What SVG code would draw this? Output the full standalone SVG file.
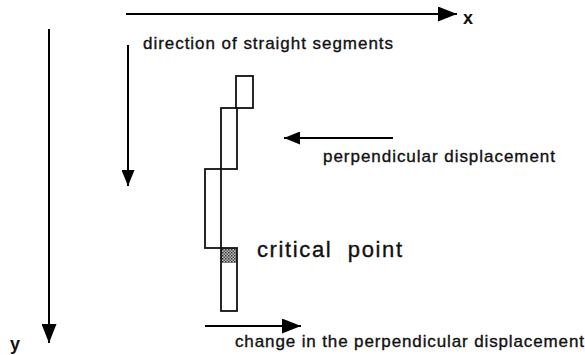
<svg xmlns="http://www.w3.org/2000/svg" width="585" height="355" viewBox="0 0 585 355">
<defs>
<style>
.ln{stroke:#000;stroke-width:2;fill:none}
.box{stroke:#111;stroke-width:1.8;fill:none}
.t{font-family:"Liberation Sans",Arial,sans-serif;fill:#111;stroke:#111;stroke-width:0.35}
.axis{font-family:"Liberation Sans",Arial,sans-serif;font-weight:bold;font-size:18px;fill:#111}
</style>
<marker id="ah" viewBox="0 0 19 15" refX="19" refY="7.5" markerWidth="19" markerHeight="15" markerUnits="userSpaceOnUse" orient="auto">
<path d="M0,0 L19,7.5 L0,15 z" fill="#000"/>
</marker>
<marker id="ahs" viewBox="0 0 16 13" refX="16" refY="6.5" markerWidth="16" markerHeight="13" markerUnits="userSpaceOnUse" orient="auto">
<path d="M0,0 L16,6.5 L0,13 z" fill="#000"/>
</marker>
<pattern id="hatch" width="3" height="3" patternUnits="userSpaceOnUse">
<rect width="3" height="3" fill="#bbb"/>
<rect width="1.5" height="1.5" fill="#333"/>
<rect x="1.5" y="1.5" width="1.5" height="1.5" fill="#555"/>
</pattern>
</defs>
<rect width="585" height="355" fill="#fff"/>
<g id="connectors">
<line class="ln" x1="126" y1="14" x2="457" y2="14" marker-end="url(#ah)"/>
<line class="ln" x1="49" y1="29" x2="49" y2="343" marker-end="url(#ah)"/>
<line class="ln" x1="128" y1="45" x2="128" y2="186" marker-end="url(#ahs)"/>
<line class="ln" x1="393" y1="138" x2="284" y2="138" marker-end="url(#ahs)"/>
<line class="ln" x1="205" y1="326" x2="301" y2="326" marker-end="url(#ah)"/>
</g>
<g id="segments">
<rect id="seg1" class="box" x="236" y="76" width="17" height="32"/>
<rect id="seg2" class="box" x="221" y="108" width="16" height="61"/>
<rect id="seg3" class="box" x="205" y="169" width="16" height="79"/>
<rect id="critical" x="221" y="248" width="16" height="15" fill="url(#hatch)"/>
<rect id="seg4" class="box" x="221" y="248" width="16" height="63"/>
</g>
<g id="labels">
<text class="axis" x="463" y="24">x</text>
<text class="axis" x="10" y="350">y</text>
<text class="t" x="143" y="49" font-size="17" textLength="250" lengthAdjust="spacing">direction of straight segments</text>
<text class="t" x="323" y="162" font-size="17" textLength="232" lengthAdjust="spacing">perpendicular displacement</text>
<text class="t" x="257" y="257" font-size="22" textLength="145" lengthAdjust="spacing" xml:space="preserve">critical  point</text>
<text class="t" x="235" y="347" font-size="17" textLength="349" lengthAdjust="spacing">change in the perpendicular displacement</text>
</g>
</svg>
